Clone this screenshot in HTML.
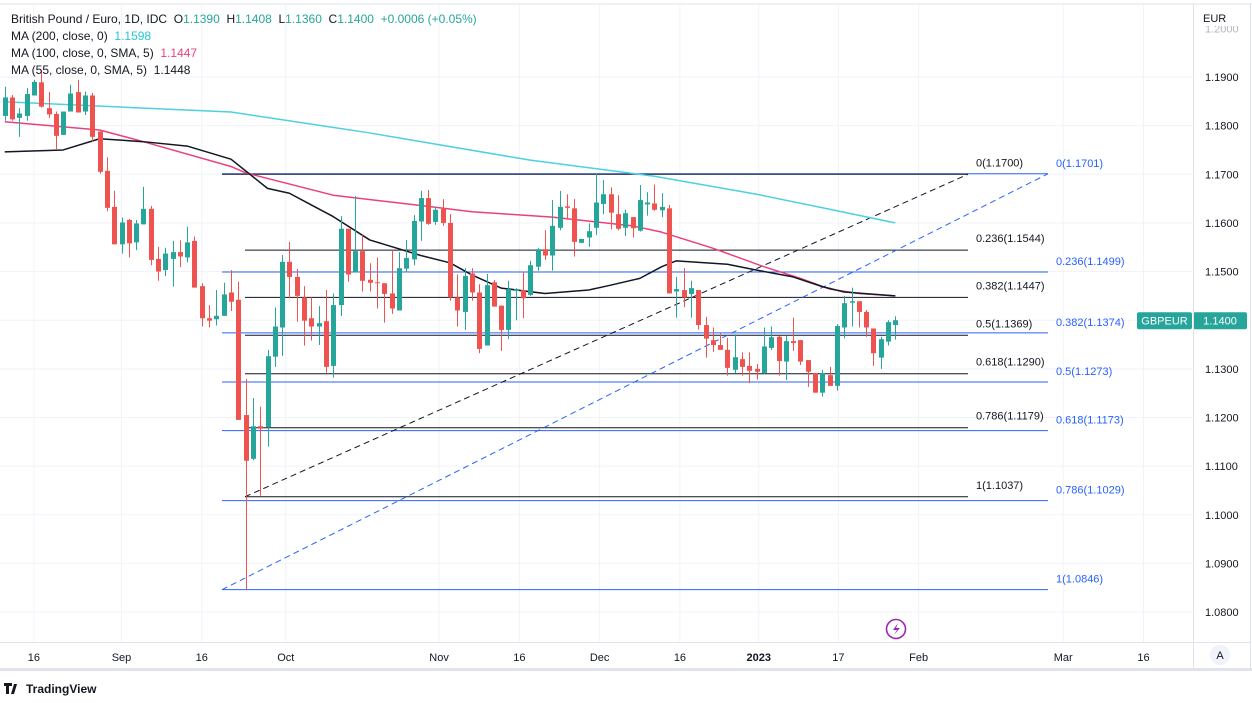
<!DOCTYPE html>
<html><head><meta charset="utf-8">
<style>
html,body{margin:0;padding:0;background:#fff;width:1252px;height:703px;overflow:hidden;font-family:"Liberation Sans",sans-serif;}
svg text{font-family:"Liberation Sans",sans-serif;white-space:pre;}
</style></head>
<body>
<svg id="chart" width="1252" height="703" xmlns="http://www.w3.org/2000/svg">
<rect x="0" y="0" width="1252" height="703" fill="#fff"/>
<g id="grid"></g>
<g id="fibs"></g>
<g id="mas"></g>
<g id="candles"></g>
<g id="axes"></g>
<line x1="0" y1="4" x2="1252" y2="4" stroke="#e0e3eb"/>
<line x1="1193.5" y1="4" x2="1193.5" y2="670" stroke="#e0e3eb"/>
<line x1="1250.5" y1="4" x2="1250.5" y2="670" stroke="#e0e3eb"/>
<line x1="0" y1="642.5" x2="1251" y2="642.5" stroke="#e0e3eb"/>
<rect x="0" y="668" width="1252" height="3" fill="#e0e3eb"/>
<g font-size="12">
<text x="11" y="23" fill="#131722">British Pound / Euro, 1D, IDC  O<tspan fill="#26a69a">1.1390</tspan>  H<tspan fill="#26a69a">1.1408</tspan>  L<tspan fill="#26a69a">1.1360</tspan>  C<tspan fill="#26a69a">1.1400</tspan>  <tspan fill="#26a69a">+0.0006 (+0.05%)</tspan></text>
<text x="11" y="40" fill="#131722">MA (200, close, 0)  <tspan fill="#26c6da">1.1598</tspan></text>
<text x="11" y="57" fill="#131722">MA (100, close, 0, SMA, 5)  <tspan fill="#ec407a">1.1447</tspan></text>
<text x="11" y="74" fill="#131722">MA (55, close, 0, SMA, 5)  1.1448</text>
</g>
<g>
<circle cx="896" cy="629" r="9.5" fill="none" stroke="#9c27b0" stroke-width="1.6"/>
<path d="M898 623 L893 630 L897 630 L894 635 L900 628 L896 628 Z" fill="#9c27b0"/>
</g>
<g>
<circle cx="1220" cy="655" r="10" fill="#f0f3fa"/>
<text x="1220" y="659" font-size="11" text-anchor="middle" fill="#131722">A</text>
</g>
<g>
<path d="M4 683 h8 v3 h-3 v8 h-3 v-8 h-2 z M14 684 l3 0 l-3 10 h-3 z" fill="#131722"/>
<text x="26" y="693" font-size="12" fill="#131722" font-weight="bold">TradingView</text>
</g>
</svg>
<script>
const NS='http://www.w3.org/2000/svg';
const opens=[1.1820,1.1858,1.1816,1.1820,1.1862,1.1889,1.1836,1.1824,1.1781,1.1829,1.1869,1.1829,1.1862,1.1788,1.1707,1.1633,1.1556,1.1606,1.1560,1.1597,1.1629,1.1526,1.1503,1.1526,1.1540,1.1529,1.1563,1.1470,1.1404,1.1402,1.1409,1.1457,1.1442,1.1205,1.1115,1.1182,1.1180,1.1325,1.1385,1.1520,1.1489,1.1447,1.1404,1.1387,1.1398,1.1306,1.1431,1.1588,1.1498,1.1542,1.1483,1.1478,1.1476,1.1455,1.1420,1.1506,1.1525,1.1603,1.1651,1.1602,1.1629,1.1600,1.1447,1.1417,1.1496,1.1457,1.1348,1.1478,1.1430,1.1380,1.1460,1.1462,1.1452,1.1510,1.1546,1.1533,1.1590,1.1634,1.1630,1.1559,1.1570,1.1590,1.1639,1.1659,1.1618,1.1590,1.1612,1.1584,1.1638,1.1640,1.1626,1.1630,1.1459,1.1462,1.1454,1.1462,1.1390,1.1359,1.1349,1.1339,1.1298,1.1320,1.1306,1.1300,1.1291,1.1343,1.1366,1.1315,1.1357,1.1359,1.1318,1.1291,1.1251,1.1287,1.1265,1.1385,1.1436,1.1439,1.1417,1.1383,1.1323,1.1356,1.1390];
const highs=[1.1880,1.1863,1.1836,1.1877,1.1894,1.1914,1.1869,1.1829,1.1829,1.1884,1.1894,1.1870,1.1867,1.1788,1.1735,1.1666,1.1611,1.1608,1.1606,1.1674,1.1635,1.1551,1.1549,1.1563,1.1564,1.1592,1.1572,1.1476,1.1431,1.1462,1.1477,1.1503,1.1479,1.1279,1.1240,1.1222,1.1339,1.1426,1.1534,1.1561,1.1505,1.1470,1.1447,1.1429,1.1462,1.1455,1.1614,1.1588,1.1655,1.1575,1.1517,1.1529,1.1476,1.1544,1.1540,1.1565,1.1616,1.1666,1.1668,1.1633,1.1649,1.1618,1.1494,1.1507,1.1507,1.1474,1.1495,1.1483,1.1430,1.1481,1.1466,1.1500,1.1522,1.1548,1.1585,1.1647,1.1666,1.1659,1.1649,1.1567,1.1599,1.1702,1.1688,1.1673,1.1657,1.1627,1.1612,1.1678,1.1663,1.1679,1.1661,1.1637,1.1489,1.1507,1.1481,1.1462,1.1407,1.1385,1.1373,1.1364,1.1371,1.1334,1.1334,1.1310,1.1385,1.1387,1.1368,1.1368,1.1405,1.1359,1.1318,1.1291,1.1298,1.1304,1.1392,1.1450,1.1467,1.1439,1.1421,1.1383,1.1366,1.1400,1.1408];
const lows=[1.1810,1.1810,1.1777,1.1810,1.1862,1.1837,1.1816,1.1752,1.1781,1.1829,1.1827,1.1822,1.1766,1.1701,1.1624,1.1556,1.1537,1.1529,1.1544,1.1597,1.1513,1.1481,1.1491,1.1469,1.1509,1.1519,1.1467,1.1387,1.1385,1.1389,1.1409,1.1419,1.1195,1.0846,1.1112,1.1039,1.1140,1.1304,1.1327,1.1445,1.1397,1.1348,1.1358,1.1349,1.1292,1.1282,1.1409,1.1479,1.1498,1.1459,1.1459,1.1424,1.1395,1.1413,1.1420,1.1498,1.1513,1.1563,1.1596,1.1596,1.1594,1.1440,1.1387,1.1380,1.1440,1.1332,1.1348,1.1428,1.1337,1.1361,1.1400,1.1404,1.1450,1.1502,1.1524,1.1502,1.1585,1.1610,1.1531,1.1559,1.1551,1.1575,1.1618,1.1587,1.1585,1.1573,1.1570,1.1582,1.1615,1.1625,1.1612,1.1455,1.1405,1.1427,1.1405,1.1381,1.1323,1.1335,1.1339,1.1286,1.1291,1.1286,1.1270,1.1278,1.1289,1.1339,1.1286,1.1277,1.1337,1.1308,1.1263,1.1251,1.1243,1.1265,1.1255,1.1363,1.1387,1.1385,1.1366,1.1306,1.1300,1.1348,1.1360];
const closes=[1.1858,1.1813,1.1825,1.1865,1.1890,1.1839,1.1823,1.1779,1.1829,1.1866,1.1827,1.1862,1.1777,1.1705,1.1631,1.1556,1.1601,1.1558,1.1599,1.1629,1.1524,1.1500,1.1537,1.1540,1.1531,1.1560,1.1467,1.1404,1.1399,1.1409,1.1453,1.1438,1.1195,1.1111,1.1182,1.1177,1.1326,1.1387,1.1520,1.1489,1.1450,1.1399,1.1387,1.1394,1.1304,1.1431,1.1588,1.1494,1.1542,1.1481,1.1477,1.1476,1.1454,1.1424,1.1507,1.1528,1.1604,1.1651,1.1598,1.1627,1.1600,1.1447,1.1420,1.1491,1.1457,1.1341,1.1472,1.1428,1.1380,1.1464,1.1464,1.1445,1.1513,1.1546,1.1533,1.1594,1.1633,1.1631,1.1561,1.1567,1.1583,1.1642,1.1659,1.1621,1.1588,1.1620,1.1589,1.1647,1.1642,1.1627,1.1633,1.1455,1.1464,1.1447,1.1466,1.1390,1.1362,1.1349,1.1339,1.1302,1.1324,1.1304,1.1296,1.1294,1.1346,1.1365,1.1316,1.1357,1.1353,1.1315,1.1294,1.1251,1.1291,1.1265,1.1388,1.1435,1.1439,1.1417,1.1385,1.1332,1.1361,1.1396,1.1400];
const ma200Idx=[0,31,50,72,89,103,114,122];
const ma200Val=[1.1849,1.1828,1.1785,1.1729,1.1696,1.1659,1.1625,1.1600];
const ma100Idx=[0,13,19,31,33,45,58,64,75,86,90,97,104,109,113,117,122];
const ma100Val=[1.1808,1.1791,1.1767,1.1716,1.1703,1.1657,1.1634,1.1623,1.1612,1.1594,1.1581,1.1548,1.1510,1.1486,1.1464,1.1455,1.1450];
const ma55Idx=[0,8,13,19,25,31,36,39,42,45,50,57,61,64,68,74,80,83,87,90,92,99,103,108,112,115,122];
const ma55Val=[1.1746,1.1750,1.1773,1.1767,1.1758,1.1731,1.1671,1.1661,1.1637,1.1613,1.1565,1.1533,1.1518,1.1493,1.1466,1.1455,1.1462,1.1472,1.1486,1.1510,1.1522,1.1515,1.1503,1.1489,1.1469,1.1458,1.1450];
const fibBlackLevels=[0,0.236,0.382,0.5,0.618,0.786,1];
const fibBlackVals=[1.1700,1.1544,1.1447,1.1369,1.1290,1.1179,1.1037];
const fibBlueLevels=[0,0.236,0.382,0.5,0.618,0.786,1];
const fibBlueVals=[1.1701,1.1499,1.1374,1.1273,1.1173,1.1029,1.0846];
const priceTicks=[1.19,1.18,1.17,1.16,1.15,1.14,1.13,1.12,1.11,1.10,1.09,1.08];
const dateLabels=['16','Sep','16','Oct','Nov','16','Dec','16','2023','17','Feb','Mar','16'];
const dateIdx=[4,16,27,38.5,59.5,70.5,81.5,92.5,103.3,114.2,125.2,145,156];

function y(v){return 77+(1.19-v)*4864;}
function x(i){return 4.7+i*7.3;}
function mk(tag,attrs,parent){const e=document.createElementNS(NS,tag);for(const k in attrs)e.setAttribute(k,attrs[k]);parent.appendChild(e);return e;}
const grid=document.getElementById('grid'),axes=document.getElementById('axes');
priceTicks.forEach(v=>{
  const l=mk('line',{x1:0,x2:1193,y1:y(v),y2:y(v),stroke:'#f0f3fa'},grid);
  
  
  const t=mk('text',{x:1205,y:y(v)+4,'font-size':11,fill:'#131722'},axes);
  
  
  t.textContent=v.toFixed(4);
});
const tt=mk('text',{x:1205,y:y(1.20)+4,'font-size':11,fill:'#b2b5be'},axes);


tt.textContent='1.2000';
mk('rect',{x:1194,y:5,width:56,height:21,fill:'#fff'},axes);
const cur=mk('text',{x:1203,y:22,'font-size':11,fill:'#131722'},axes);


cur.textContent='EUR';
dateLabels.forEach((d,k)=>{
  const xx=x(dateIdx[k]);
  const l=mk('line',{x1:xx,x2:xx,y1:5,y2:642,stroke:'#f0f3fa'},grid);
  
  
  const t=mk('text',{x:xx,y:661,'font-size':11,'text-anchor':'middle',fill:'#131722','font-weight':d==='2023'?'bold':'normal'},axes);
  
  
  t.textContent=d;
});
const fibs=document.getElementById('fibs');
fibBlueVals.forEach((v,k)=>{
  const l=mk('line',{x1:222,x2:1048,y1:y(v),y2:y(v),stroke:'#2962ff','stroke-width':1},fibs);
  
  
  const t=mk('text',{x:1056,y:y(v)-7,'font-size':11,fill:'#2962ff'},fibs);
  
  
  t.textContent=fibBlueLevels[k]+'('+v.toFixed(4)+')';
});
fibBlackVals.forEach((v,k)=>{
  const l=mk('line',{x1:k===0?222:245,x2:968,y1:y(v),y2:y(v),stroke:'#131722','stroke-width':1},fibs);
  
  
  const t=mk('text',{x:976,y:y(v)-8,'font-size':11,fill:'#131722'},fibs);
  
  
  t.textContent=fibBlackLevels[k]+'('+v.toFixed(4)+')';
});
const tl1=mk('line',{x1:245,y1:y(fibBlackVals[6]),x2:968,y2:y(fibBlackVals[0]),stroke:'#131722','stroke-dasharray':'6 4'},fibs);


const tl2=mk('line',{x1:222,y1:y(fibBlueVals[6]),x2:1048,y2:y(fibBlueVals[0]),stroke:'#2962ff','stroke-dasharray':'6 4'},fibs);


const mas=document.getElementById('mas');
function maLine(idx,val,color,name){
  const p=mk('polyline',{points:idx.map((i,k)=>x(i)+','+y(val[k])).join(' '),fill:'none',stroke:color,'stroke-width':1.5,'stroke-linejoin':'round'},mas);
  
  
}
maLine(ma200Idx,ma200Val,'#4dd0e1','ma200-line');
maLine(ma100Idx,ma100Val,'#ec407a','ma100-line');
maLine(ma55Idx,ma55Val,'#131722','ma55-line');
const cg=document.getElementById('candles');
opens.forEach((o,i)=>{
  const c=closes[i],up=c>=o,col=up?'#26a69a':'#ef5350',cx=Math.round(x(i))+0.5;
  const w=mk('line',{x1:cx,x2:cx,y1:y(highs[i]),y2:y(lows[i]),stroke:col,'stroke-width':1},cg);
  
  
  const top=y(Math.max(o,c)),h=Math.max(1,Math.abs(y(o)-y(c)));
  const b=mk('rect',{x:cx-2.5,y:top,width:5,height:h,fill:col},cg);
  
  
});
const last=closes[closes.length-1];
const g1=mk('rect',{x:1137,y:y(last)-8,width:55,height:17,rx:2,fill:'#26a69a'},axes);


const t1=mk('text',{x:1164.5,y:y(last)+4.5,'font-size':11,'text-anchor':'middle',fill:'#fff'},axes);


t1.textContent='GBPEUR';
const g2=mk('rect',{x:1193,y:y(last)-8,width:54,height:17,rx:2,fill:'#26a69a'},axes);


const t2=mk('text',{x:1220,y:y(last)+4.5,'font-size':11,'text-anchor':'middle',fill:'#fff'},axes);


t2.textContent=last.toFixed(4);
</script>
</body></html>
